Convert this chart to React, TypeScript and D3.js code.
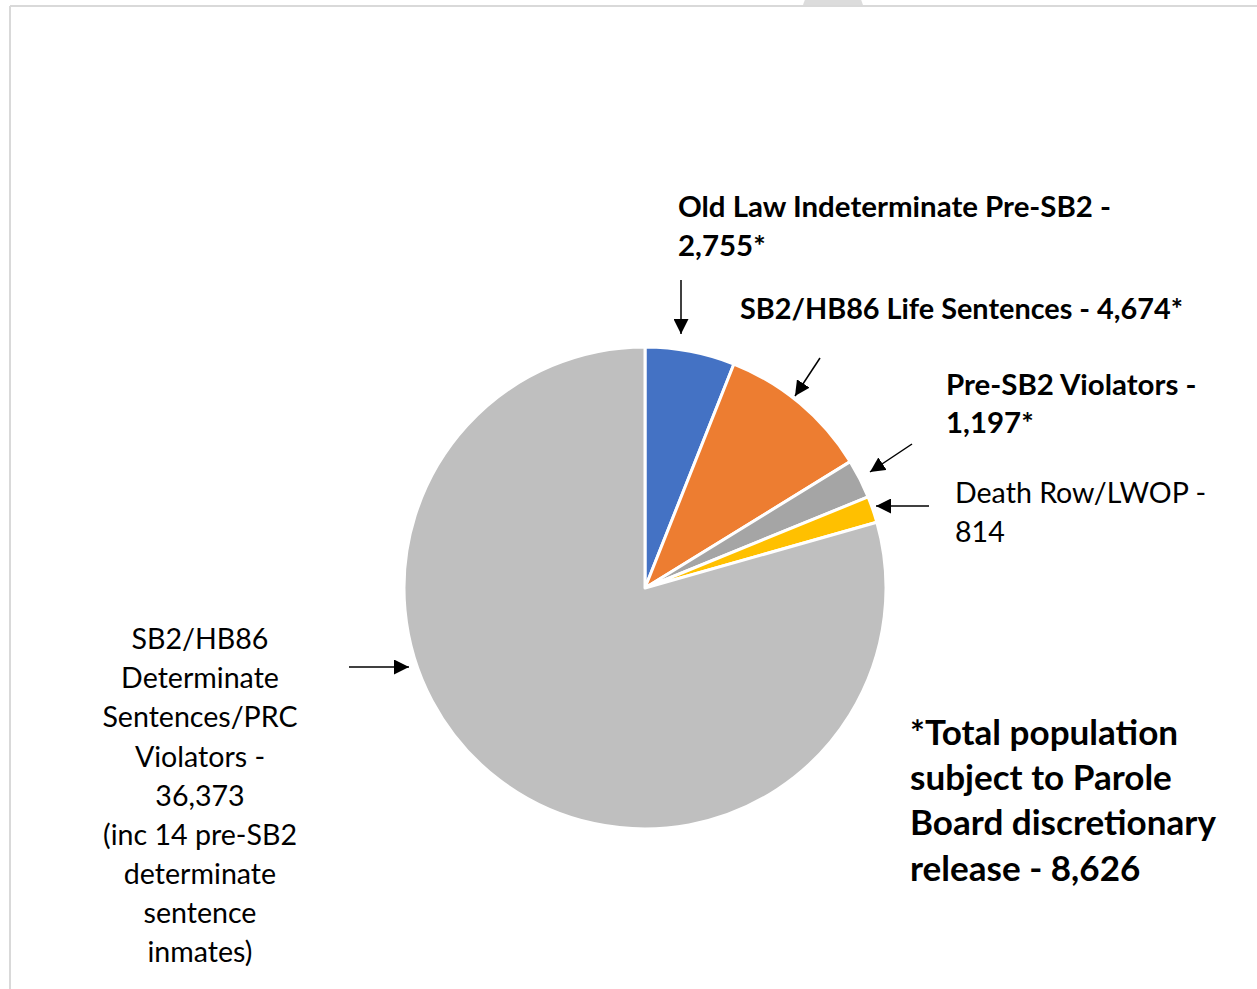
import React, { useMemo } from "react";
import * as d3 from "d3";

// ---------- data ----------
const categories = [
  "Old Law Indeterminate Pre-SB2",
  "SB2/HB86 Life Sentences",
  "Pre-SB2 Violators",
  "Death Row/LWOP",
  "SB2/HB86 Determinate Sentences/PRC Violators",
];
const values = [2755, 4674, 1197, 814, 36373];
const sliceColors = ["#4472C4", "#ED7D31", "#A5A5A5", "#FFC000", "#BFBFBF"];

const labelLines: string[][] = [
  ["Old Law Indeterminate Pre-SB2 -", "2,755*"],
  ["SB2/HB86 Life Sentences - 4,674*"],
  ["Pre-SB2 Violators -", "1,197*"],
  ["Death Row/LWOP -", "814"],
  [
    "SB2/HB86",
    "Determinate",
    "Sentences/PRC",
    "Violators -",
    "36,373",
    "(inc 14 pre-SB2",
    "determinate",
    "sentence",
    "inmates)",
  ],
];
const footnoteLines = [
  "*Total population",
  "subject to Parole",
  "Board discretionary",
  "release - 8,626",
];

// ---------- layout ----------
const W = 1257;
const H = 989;
const CX = 645;
const CY = 588;
const R = 241;
const FAMILY = "Lato, 'Open Sans', sans-serif";

type LabelLayout = {
  x: number;
  y: number; // visual center of first line
  dy: number;
  anchor: "start" | "middle";
  bold: boolean;
  width?: number;
  arrow: [number, number, number, number];
};
const labelLayout: LabelLayout[] = [
  { x: 678, y: 206, dy: 39, anchor: "start", bold: true, arrow: [681, 280, 681, 334] },
  { x: 740, y: 308, dy: 39, anchor: "start", bold: true, width: 443, arrow: [820, 358, 795, 396] },
  { x: 946, y: 384, dy: 38, anchor: "start", bold: true, arrow: [912, 444, 870, 472] },
  { x: 955, y: 493, dy: 39, anchor: "start", bold: false, arrow: [929, 506, 876, 506] },
  { x: 200, y: 639, dy: 39.1, anchor: "middle", bold: false, arrow: [349, 667, 409, 667] },
];

function measure(text: string, weight: number, size: number) {
  const ctx = document.createElement("canvas").getContext("2d")!;
  ctx.font = `${weight} ${size}px Lato`;
  return ctx.measureText(text).width;
}
function fitSize(text: string, weight: number, target: number) {
  return (100 * target) / measure(text, weight, 100);
}

export default function App() {
  const arcs = useMemo(
    () => d3.pie<number>().sort(null).value((d) => d)(values),
    []
  );
  const arcGen = d3.arc<d3.PieArcDatum<number>>().innerRadius(0).outerRadius(R);

  const sizes = useMemo(() => {
    const regular = fitSize("Death Row/LWOP -", 400, 252);
    const bold = fitSize("Old Law Indeterminate Pre-SB2 -", 700, 434);
    const foot = fitSize("Board discretionary", 700, 306);
    return { regular, bold, foot };
  }, []);

  return (
    <svg
      width={W}
      height={H}
      style={{ position: "absolute", left: 0, top: 0, background: "#fff" }}
    >
      <defs>
        <marker
          id="ah"
          viewBox="0 0 10 10"
          refX="10"
          refY="5"
          markerUnits="userSpaceOnUse"
          markerWidth="15"
          markerHeight="15"
          orient="auto"
        >
          <path d="M0,0 L10,5 L0,10 Z" fill="#000" />
        </marker>
        <clipPath id="topclip">
          <rect x={0} y={-20} width={W} height={26} />
        </clipPath>
      </defs>

      {/* frame */}
      <circle cx={833} cy={13} r={31} fill="#dcdcdc" clipPath="url(#topclip)" />
      <line x1={10} y1={6} x2={W} y2={6} stroke="#d9d9d9" strokeWidth={2} />
      <line x1={10} y1={6} x2={10} y2={H} stroke="#d9d9d9" strokeWidth={2} />

      {/* pie */}
      <g transform={`translate(${CX},${CY})`}>
        {arcs.map((a, i) => (
          <path
            key={categories[i]}
            d={arcGen(a) || ""}
            fill={sliceColors[i]}
            stroke="#fff"
            strokeWidth={3}
            strokeLinejoin="round"
          />
        ))}
      </g>

      {/* labels */}
      {labelLayout.map((l, i) => {
        const size = l.bold ? sizes.bold : sizes.regular;
        const base = l.y + 0.36 * size;
        return (
          <g key={"lab" + i}>
            <text
              x={l.x}
              y={base}
              fontFamily={FAMILY}
              fontWeight={l.bold ? 700 : 400}
              fontSize={size}
              textAnchor={l.anchor}
              fill="#000"
            >
              {labelLines[i].map((t, j) => (
                <tspan
                  key={j}
                  x={l.x}
                  y={base + j * l.dy}
                  {...(l.width && j === 0
                    ? { textLength: l.width, lengthAdjust: "spacingAndGlyphs" }
                    : {})}
                >
                  {t}
                </tspan>
              ))}
            </text>
            <line
              x1={l.arrow[0]}
              y1={l.arrow[1]}
              x2={l.arrow[2]}
              y2={l.arrow[3]}
              stroke="#000"
              strokeWidth={1.5}
              markerEnd="url(#ah)"
            />
          </g>
        );
      })}

      {/* footnote */}
      <text
        fontFamily={FAMILY}
        fontWeight={700}
        fontSize={sizes.foot}
        fill="#000"
      >
        {footnoteLines.map((t, j) => (
          <tspan key={j} x={910} y={732 + 0.36 * sizes.foot + j * 45.3}>
            {t}
          </tspan>
        ))}
      </text>
    </svg>
  );
}
